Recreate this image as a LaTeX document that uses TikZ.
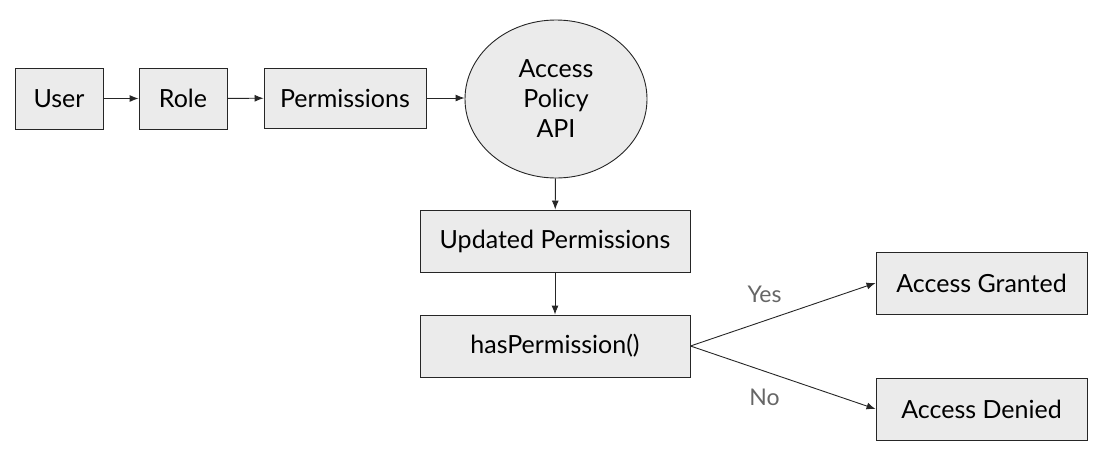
\documentclass[tikz,border=0pt]{standalone}
\usepackage{fontspec}
\setmainfont{Lato}
\usetikzlibrary{shapes.geometric,arrows.meta}
\definecolor{boxfill}{HTML}{EBEBEB}
\tikzset{
  box/.style={draw=black!85,fill=boxfill,line width=0.9pt,inner sep=0pt,font=\fontsize{25}{30}\selectfont},
  conn/.style={draw=black!85,line width=0.9pt,-{Latex[length=9pt,width=7pt]}},
  lab/.style={text=black!60,font=\fontsize{23}{27}\selectfont}
}
\begin{document}
\begin{tikzpicture}[x=1pt,y=-1pt]
\useasboundingbox (0,0) rectangle (1107,461);
\node[box,minimum width=88pt,minimum height=61pt] (user) at (59,98.5) {User};
\node[box,minimum width=88pt,minimum height=61pt] (role) at (183,98.5) {Role};
\node[box,minimum width=162pt,minimum height=60pt] (perm) at (345,98) {Permissions};
\node[box,ellipse,minimum width=182pt,minimum height=158pt,align=center,font=\fontsize{25}{30}\selectfont] (api) at (556,99) {Access\\Policy\\API};
\node[box,minimum width=270pt,minimum height=62pt] (upd) at (555,241) {Updated Permissions};
\node[box,minimum width=270pt,minimum height=62pt] (has) at (555,346) {hasPermission()};
\node[box,minimum width=211pt,minimum height=62pt] (gr) at (981.5,283) {Access Granted};
\node[box,minimum width=211pt,minimum height=62pt] (den) at (981.5,409) {Access Denied};
\draw[conn] (user) -- (role);
\draw[conn] (role) -- (perm);
\draw[conn] (perm.east) -- (api.west |- perm.east);
\draw[conn] (api) -- (upd);
\draw[conn] (upd) -- (has);
\draw[conn] (has.east) -- (gr.west) node[lab,pos=0.4,above=14pt] (yes) {Yes};
\draw[conn] (has.east) -- (den.west) node[lab,pos=0.4,below=14pt] (no) {No};
\end{tikzpicture}
\end{document}
